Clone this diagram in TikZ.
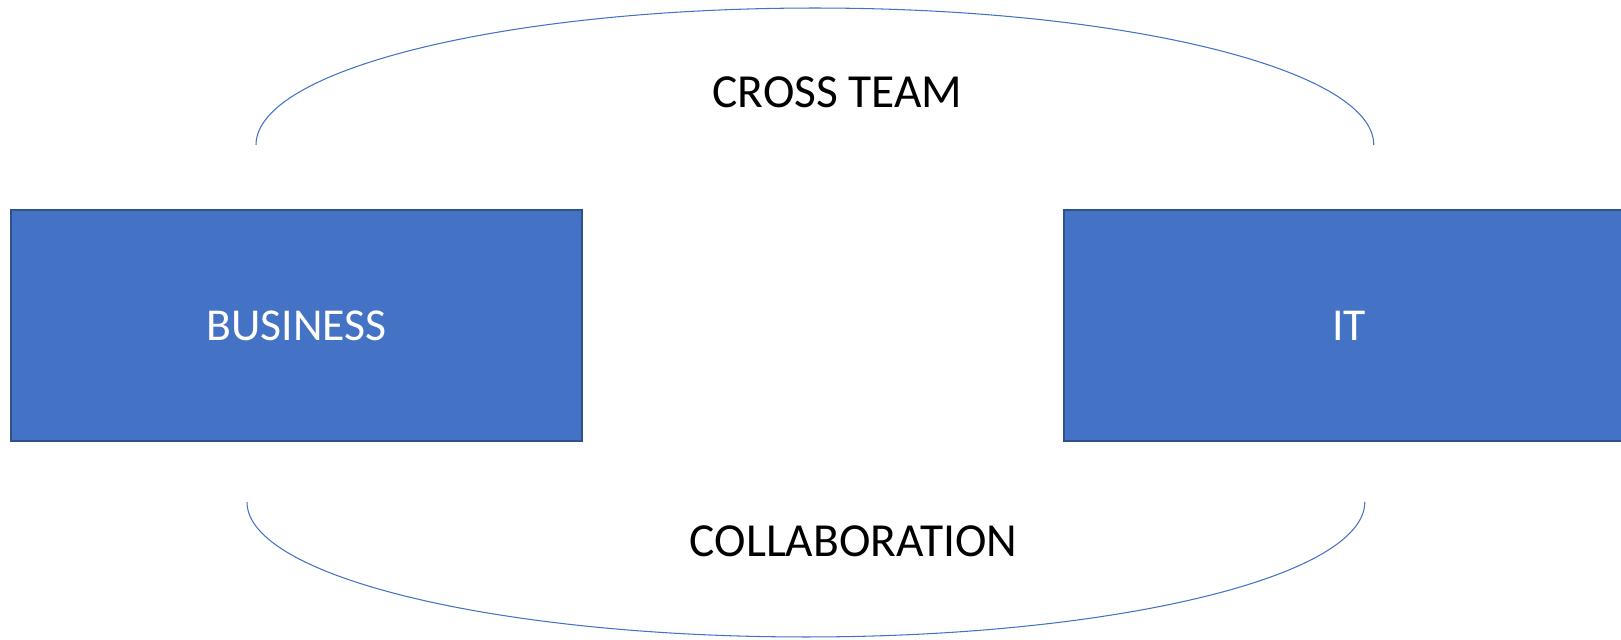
\documentclass[tikz,border=0pt]{standalone}
\usepackage{fontspec}
\setmainfont{Carlito}
\usepackage{tikz}
\usetikzlibrary{positioning}
\definecolor{boxblue}{HTML}{4472C4}
\definecolor{boxedge}{HTML}{2F528F}

\begin{document}
\begin{tikzpicture}[
x=0.02cm, y=0.02cm,
team/.style={draw=boxedge, fill=boxblue, line width=1.1pt,
  minimum width=11.42cm, minimum height=4.62cm, inner sep=0pt,
  text=white, font=\fontsize{26}{30}\selectfont},
label text/.style={font=\fontsize{27}{32}\selectfont, inner sep=0pt},
bow/.style={draw=boxblue, line width=0.6pt},
]
\useasboundingbox (0,0) rectangle (1621,639);
\node[team] (business) at (296.5,313.5) {BUSINESS};
\node[team, right=9.6cm of business] (it) {IT};
\node[label text] (crossteam) at (837.5,547) {CROSS TEAM};
\node[label text] (collab) at (853.5,97.5) {COLLABORATION};
%upper half ellipse
\coordinate (topstart) at (256,494);
\draw[bow] (topstart) arc[start angle=180, end angle=0,
  x radius=11.18cm, y radius=2.74cm];
%lower half ellipse
\coordinate (botstart) at (247,137);
\draw[bow] (botstart) arc[start angle=180, end angle=360,
  x radius=11.18cm, y radius=2.7cm];
\end{tikzpicture}
\end{document}
